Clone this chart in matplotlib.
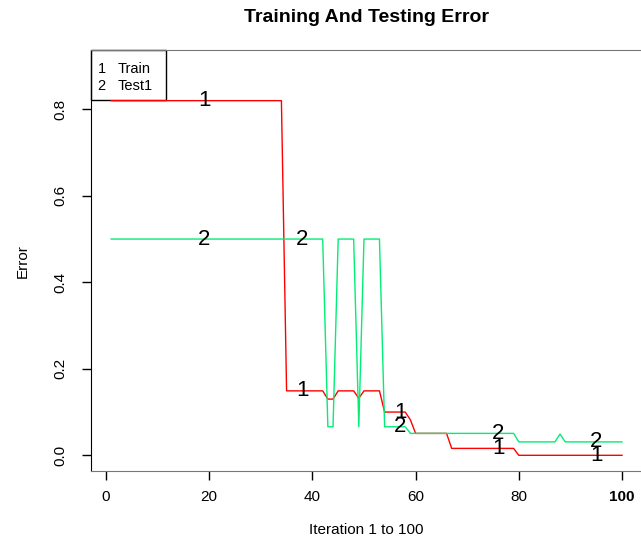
import numpy as np
import matplotlib.pyplot as plt
from matplotlib.patches import Rectangle

plt.rcParams['font.family'] = ['Liberation Sans', 'DejaVu Sans']

iterations = np.arange(1, 101)

# error per iteration, read segment by segment
train_err = ([0.82] * 34 + [0.149] * 8 + [0.130] * 2 + [0.149] * 4 + [0.132]
             + [0.149] * 4 + [0.100] * 5 + [0.082] + [0.0507] * 7
             + [0.016] * 13 + [0.0] * 21)
test_err = ([0.5] * 42 + [0.066] * 2 + [0.5] * 4 + [0.066] + [0.5] * 4
            + [0.066] * 5 + [0.0507] * 21 + [0.031] * 8 + [0.049]
            + [0.031] * 12)

series_names = ['Train', 'Test1']
series_colors = ['#ff0000', '#00ee76']
label_iters = [19, 38, 57, 76, 95]

x_ticks = [0, 20, 40, 60, 80, 100]
y_ticks = [0.0, 0.2, 0.4, 0.6, 0.8]

fig = plt.figure(figsize=(6.41, 5.40), dpi=100)
ax = fig.add_axes([0.1415, 0.128, 0.8607, 0.7785])

for i, (vals, col) in enumerate(zip([train_err, test_err], series_colors)):
    ax.plot(iterations, vals, color=col, lw=1.0)
    for it in label_iters:
        ax.text(it, vals[it - 1], str(i + 1), fontsize=16, ha='center',
                va='center', color='black')

ax.set_xlim(1 - 0.04 * 99, 100 + 0.04 * 99)
ax.set_ylim(-0.036, 0.936)

ax.set_xticks(x_ticks)
ax.set_xticklabels([str(t) for t in x_ticks], fontsize=11)
ax.get_xticklabels()[-1].set_fontweight('bold')
ax.set_yticks(y_ticks)
ax.set_yticklabels(['%.1f' % t for t in y_ticks], fontsize=11,
                   rotation=90, va='center')
ax.tick_params(axis='both', direction='out', length=6.5, width=1,
               color='black')
ax.tick_params(axis='x', pad=7)
ax.tick_params(axis='y', pad=10)

for side in ['top', 'bottom']:
    ax.spines[side].set_color('#777777')
ax.spines['left'].set_color('black')
ax.spines['right'].set_visible(False)

ax.set_xlabel('Iteration 1 to 100', fontsize=11, labelpad=14)
ax.set_ylabel('Error', fontsize=11, labelpad=17)
fig.text(0.571, 0.968, 'Training And Testing Error', fontsize=14,
         fontweight='bold', ha='center', va='center')

# legend box in the top left corner of the plot
ax.add_patch(Rectangle((0, 1), 0.136, -0.118, transform=ax.transAxes,
                       fill=False, edgecolor='black', lw=1, clip_on=False))
for k, name in enumerate(series_names):
    y = 1 - 0.045 - 0.04 * k
    ax.text(0.02, y, str(k + 1), transform=ax.transAxes, fontsize=10.5,
            ha='center', va='center')
    ax.text(0.049, y, name, transform=ax.transAxes, fontsize=10.5,
            ha='left', va='center')

fig.savefig('out.png', dpi=100)
